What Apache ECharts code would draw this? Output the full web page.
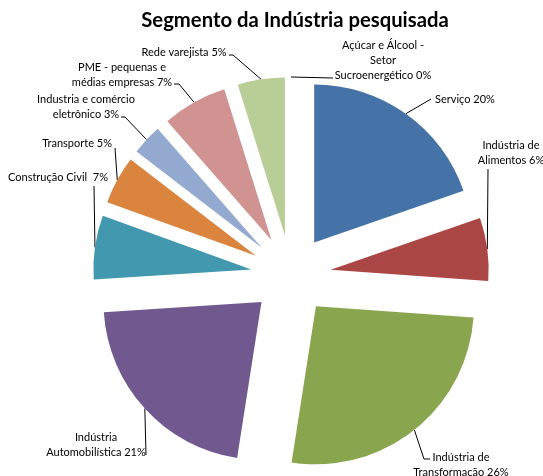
<!DOCTYPE html>
<html>
<head>
<meta charset="utf-8">
<script src="https://cdn.jsdelivr.net/npm/echarts@6/dist/echarts.min.js"></script>
<style>
  html, body { margin: 0; padding: 0; background: #fff; }
  #chart { width: 543px; height: 476px; }
</style>
</head>
<body>
<div id="chart"></div>
<script>
var categories = ['Serviço', 'Indústria de\nAlimentos', 'Indústria de\nTransformação', 'Indústria\nAutomobilística',
  'Construção Civil ', 'Transporte', 'Industria e comércio\neletrônico', 'PME - pequenas e\nmédias empresas',
  'Rede varejista', 'Açúcar e Álcool -\nSetor\nSucroenergético'];
var values = [19.6, 6.4, 26.2, 21.4, 6.5, 4.9, 3.1, 6.6, 4.8, 0];
var colors = ['#4572A7', '#AA4643', '#89A54E', '#71588F', '#4198AF', '#DB843D', '#93A9CF', '#D19392', '#B9CD96', '#A99BBD'];

var pieCenter = [291, 275];
var pieRadius = 158;
var explode = 40;

// posicao dos rotulos (estilo excel)
var labelBoxes = [
  {x: 435, y: 99,  align: 'left',   line: [[431, 99]]},
  {x: 511, y: 153, align: 'center', line: [[488, 169]]},
  {x: 461, y: 465, align: 'center', line: [[424, 459], [430, 459]]},
  {x: 96,  y: 445, align: 'center', line: [[146, 455]]},
  {x: 108, y: 177, align: 'right',  line: [[94, 186]]},
  {x: 112, y: 143, align: 'right',  line: [[115, 148]]},
  {x: 86,  y: 107, align: 'center', line: [[125, 117], [121, 117]]},
  {x: 122, y: 75,  align: 'center', line: [[179, 84], [174, 84]]},
  {x: 184, y: 52,  align: 'center', line: [[233, 55], [229, 55]]},
  {x: 383, y: 60,  align: 'center', line: [[333, 78]]}
];

var pieData = [], labelData = [];
for (var i = 0; i < values.length; i++) {
  pieData.push({name: categories[i], value: values[i], selected: true, itemStyle: {color: colors[i]}});
  labelData.push({name: categories[i], value: values[i]});
}

var chart = echarts.init(document.getElementById('chart'));
var option = {
  animation: false,
  title: {
    text: 'Segmento da Indústria pesquisada',
    left: 290,
    top: 5,
    textAlign: 'center',
    textStyle: {fontFamily: 'Lato', fontSize: 20.3, fontWeight: 'bold', color: '#000'}
  },
  series: [
    {
      // fatias destacadas
      type: 'pie',
      center: pieCenter,
      radius: pieRadius,
      startAngle: 90,
      clockwise: true,
      selectedMode: 'multiple',
      selectedOffset: explode,
      silent: true,
      emphasis: {disabled: true},
      label: {show: false},
      labelLine: {show: false},
      data: pieData
    },
    {
      // so os rotulos
      type: 'pie',
      center: pieCenter,
      radius: pieRadius,
      startAngle: 90,
      clockwise: true,
      silent: true,
      emphasis: {disabled: true},
      itemStyle: {color: 'rgba(0,0,0,0)'},
      label: {
        show: true,
        position: 'outside',
        overflow: 'none',
        fontFamily: 'Lato',
        fontSize: 11,
        lineHeight: 15,
        color: '#000',
        formatter: function (p) { return p.name + ' ' + Math.round(p.value) + '%'; }
      },
      labelLine: {show: true, lineStyle: {color: '#000', width: 1}},
      labelLayout: function (params) {
        var b = labelBoxes[params.dataIndex];
        var pts = params.labelLinePoints;
        var res = {x: b.x, y: b.y, align: b.align, verticalAlign: 'middle'};
        if (pts) {
          var ux = (pts[0][0] - pieCenter[0]) / pieRadius;
          var uy = (pts[0][1] - pieCenter[1]) / pieRadius;
          var start = [pts[0][0] + ux * explode, pts[0][1] + uy * explode];
          res.labelLinePoints = [start].concat(b.line);
        }
        return res;
      },
      data: labelData
    }
  ]
};
chart.setOption(option);
</script>
</body>
</html>
